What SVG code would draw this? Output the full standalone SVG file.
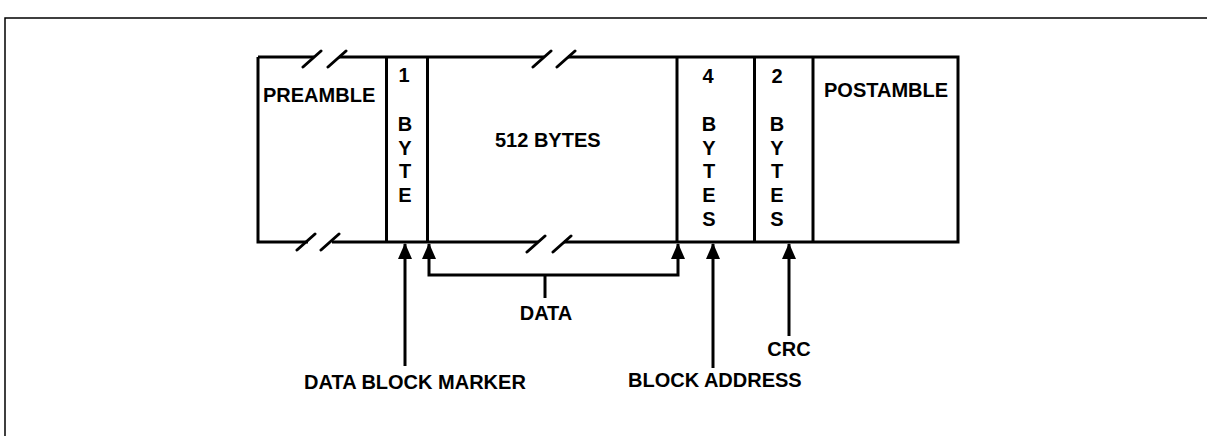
<svg xmlns="http://www.w3.org/2000/svg" width="1207" height="436" viewBox="0 0 1207 436">
<defs>
<style>
text{font-family:"Liberation Sans",Arial,sans-serif;font-weight:bold;font-size:20px;fill:#000}
.c{text-anchor:middle}
.ln{fill:none;stroke:#000;stroke-width:3;stroke-linecap:butt}
.sl{fill:none;stroke:#000;stroke-width:3;stroke-linecap:round}
.fr{fill:none;stroke:#000;stroke-width:1.5}
</style>
<marker id="ah" viewBox="0 0 16 14" refX="15" refY="7" markerWidth="16" markerHeight="14" markerUnits="userSpaceOnUse" orient="auto-start-reverse">
<path d="M0 0 L16 7 L0 14 Z" fill="#000"/>
</marker>
</defs>
<rect width="1207" height="436" fill="#fff"/>
<g id="frame">
<path class="fr" d="M5 436 V18 H1207"/>
</g>
<g id="record">
<path class="ln" d="M258 57 H314 M339 57 H544 M568 57 H958 V242 H564 M538 242 H332 M308 242 H258 V57"/>
<path class="sl" d="M303 67 L321 51 M328 67 L346 51 M533 67 L551 51 M557 67 L575 51 M297 250 L315 234 M321 250 L339 234 M527 252 L545 236 M553 252 L571 236"/>
</g>
<g id="preamble">
<text x="263" y="102">PREAMBLE</text>
</g>
<g id="marker-byte">
<line class="ln" x1="386.5" y1="57" x2="386.5" y2="242"/>
<text class="c" x="404" y="82">1</text>
<text class="c" x="405" y="131">B</text>
<text class="c" x="405" y="154.5">Y</text>
<text class="c" x="405" y="178">T</text>
<text class="c" x="405" y="201.5">E</text>
</g>
<g id="data-bytes">
<line class="ln" x1="427.5" y1="57" x2="427.5" y2="242"/>
<text x="495" y="147">512 BYTES</text>
</g>
<g id="address-bytes">
<line class="ln" x1="677" y1="57" x2="677" y2="242"/>
<text class="c" x="708" y="83">4</text>
<text class="c" x="709" y="131">B</text>
<text class="c" x="709" y="154.5">Y</text>
<text class="c" x="709" y="178">T</text>
<text class="c" x="709" y="201.5">E</text>
<text class="c" x="709" y="226">S</text>
</g>
<g id="crc-bytes">
<line class="ln" x1="754.5" y1="57" x2="754.5" y2="242"/>
<text class="c" x="777" y="83">2</text>
<text class="c" x="777" y="131">B</text>
<text class="c" x="777" y="154.5">Y</text>
<text class="c" x="777" y="178">T</text>
<text class="c" x="777" y="201.5">E</text>
<text class="c" x="777" y="226">S</text>
</g>
<g id="postamble">
<line class="ln" x1="813" y1="57" x2="813" y2="242"/>
<text x="824" y="97">POSTAMBLE</text>
</g>
<g id="connectors">
<path class="ln" d="M405 366 V244" marker-end="url(#ah)"/>
<path class="ln" d="M429 244 V275 H678 V244" marker-start="url(#ah)" marker-end="url(#ah)"/>
<path class="ln" d="M545 275 V298"/>
<path class="ln" d="M713 368 V244" marker-end="url(#ah)"/>
<path class="ln" d="M789 336 V244" marker-end="url(#ah)"/>
</g>
<g id="labels">
<text class="c" x="546" y="320">DATA</text>
<text x="304" y="389">DATA BLOCK MARKER</text>
<text x="628" y="387">BLOCK ADDRESS</text>
<text class="c" x="789" y="356">CRC</text>
</g>
</svg>
